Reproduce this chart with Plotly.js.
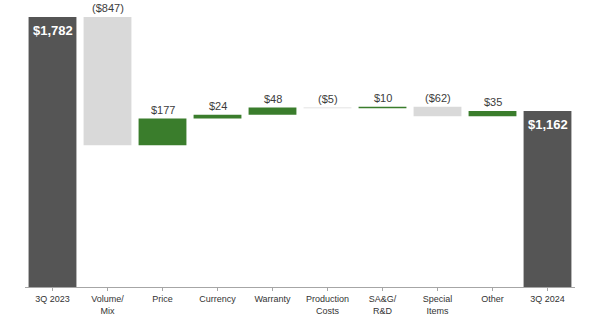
<!DOCTYPE html>
<html>
<head>
<meta charset="utf-8">
<script src="https://cdn.plot.ly/plotly-3.0.1.min.js"></script>
<style>html,body{margin:0;padding:0;background:#fff;}#chart{width:600px;height:315px;}</style>
</head>
<body>
<div id="chart"></div>
<script>
var categories = ["3Q 2023", "Volume/<br>Mix", "Price", "Currency", "Warranty", "Production<br>Costs", "SA&G/<br>R&D", "Special<br>Items", "Other", "3Q 2024"];
var measures = ["absolute", "relative", "relative", "relative", "relative", "relative", "relative", "relative", "relative", "total"];
var values = [1782, -847, 177, 24, 48, -5, 10, -62, 35, 1162];
var labels = ["$1,782", "($847)", "$177", "$24", "$48", "($5)", "$10", "($62)", "$35", "$1,162"];

var annotations = [];
var running = 0;
for (var i = 0; i < values.length; i++) {
  var m = measures[i];
  if (m === "absolute" || m === "total") {
    running = (m === "absolute") ? values[i] : running;
    annotations.push({x: i, y: running, xref: "x", yref: "y", text: "<b>" + labels[i] + "</b>", showarrow: false,
      yanchor: "top", yshift: -4, font: {family: "Liberation Sans, Arial", size: 13, color: "#ffffff"}});
  } else {
    var start = running, end = running + values[i];
    running = end;
    annotations.push({x: i, y: Math.max(start, end), xref: "x", yref: "y", text: labels[i], showarrow: false,
      yanchor: "bottom", yshift: 1, font: {family: "Liberation Sans, Arial", size: 11, color: "#3c3c3c"}});
  }
}

var trace = {
  type: "waterfall",
  x: categories.map(function(c, i){ return i; }),
  y: values,
  measure: measures,
  width: 0.87,
  textposition: "none",
  hoverinfo: "none",
  connector: {visible: false},
  increasing: {marker: {color: "#3a7d2c"}},
  decreasing: {marker: {color: "#d9d9d9"}},
  totals: {marker: {color: "#555555"}}
};

var layout = {
  width: 600, height: 315,
  margin: {l: 25, r: 25, t: 10, b: 28},
  paper_bgcolor: "#ffffff", plot_bgcolor: "#ffffff",
  showlegend: false,
  xaxis: {
    tickmode: "array", tickvals: categories.map(function(c, i){ return i; }), ticktext: categories,
    range: [-0.5, 9.5], showgrid: false, zeroline: false,
    showline: true, linecolor: "#a6a6a6", linewidth: 1,
    ticks: "outside", ticklen: 3, tickcolor: "#a6a6a6",
    tickfont: {family: "Liberation Sans, Arial", size: 9, color: "#333333"}
  },
  yaxis: {range: [0, 1828], visible: false, showgrid: false, zeroline: false},
  annotations: annotations
};

Plotly.newPlot("chart", [trace], layout, {displayModeBar: false, staticPlot: true});
</script>
</body>
</html>
